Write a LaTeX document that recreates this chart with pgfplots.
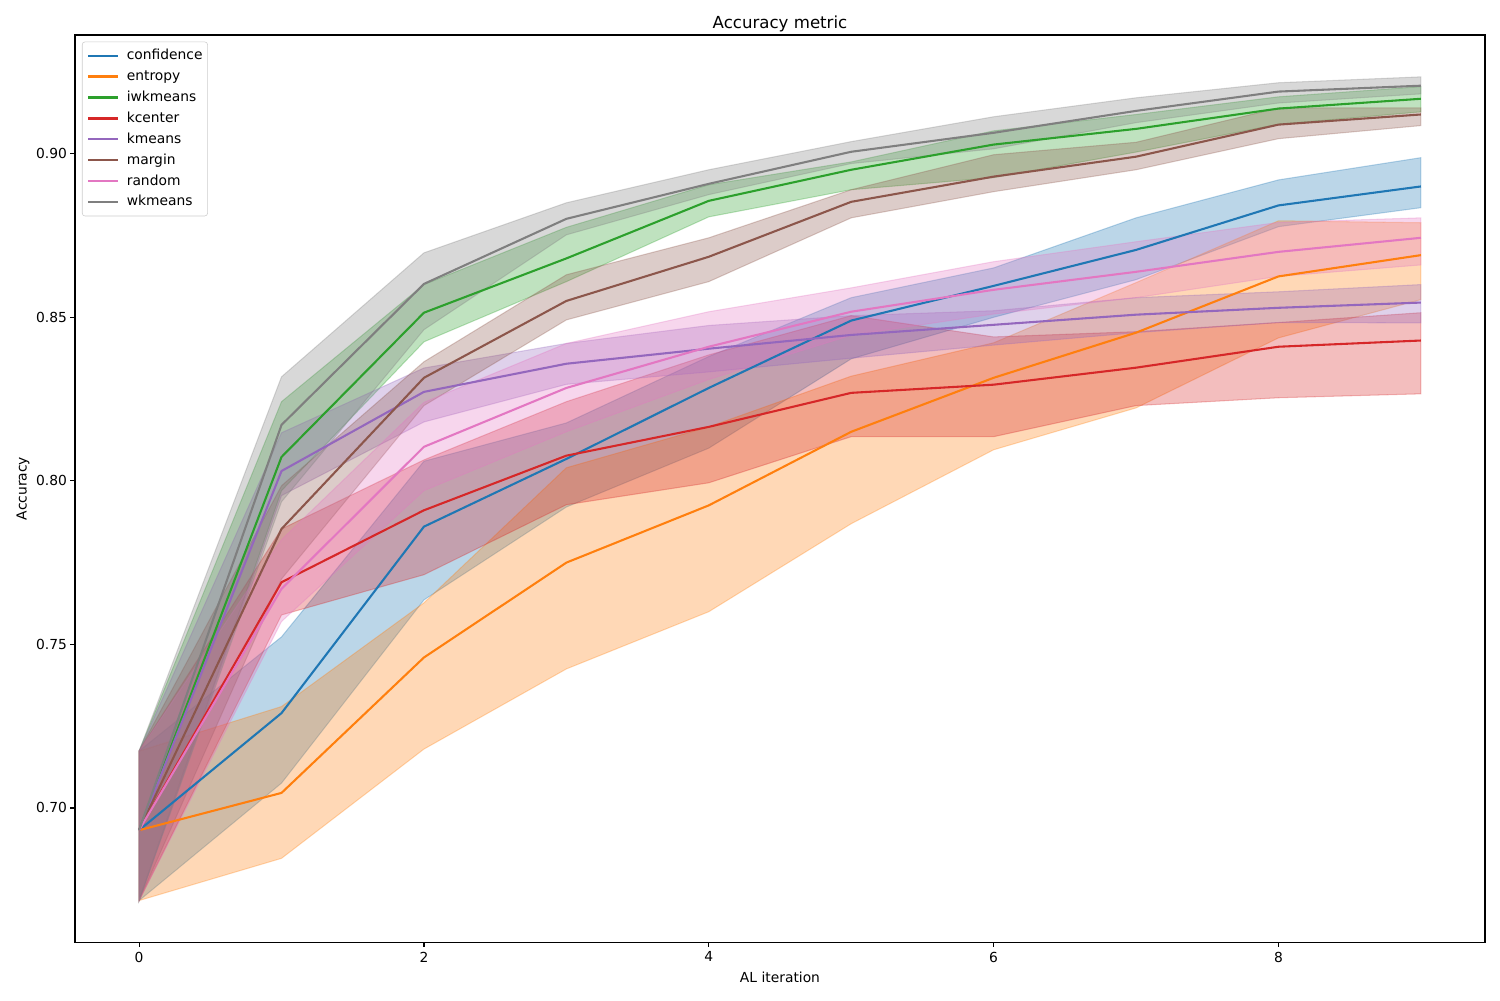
\documentclass[border=0pt]{standalone}
\usepackage{fontspec}
\setmainfont{DejaVu Sans}
\usepackage{pgfplots}
\pgfplotsset{compat=1.18}
\definecolor{c0}{HTML}{1F77B4}
\definecolor{c1}{HTML}{FF7F0E}
\definecolor{c2}{HTML}{2CA02C}
\definecolor{c3}{HTML}{D62728}
\definecolor{c4}{HTML}{9467BD}
\definecolor{c5}{HTML}{8C564B}
\definecolor{c6}{HTML}{E377C2}
\definecolor{c7}{HTML}{7F7F7F}
\pgfplotsset{
  band/.style={fill=#1, draw=#1, opacity=0.3, line width=0.75bp, forget plot},
  mline/.style={color=#1, line width=1.5bp, line join=round},
}
\begin{document}
\fontsize{10}{12}\selectfont
\begin{tikzpicture}
\begin{axis}[
  scale only axis, width=1015.2bp, height=653.04bp,
  xmin=-0.45, xmax=9.45, ymin=0.659, ymax=0.9363,
  xtick={0,2,4,6,8}, ytick={0.70,0.75,0.80,0.85,0.90},
  yticklabel style={xshift=1.2bp, /pgf/number format/.cd, fixed, fixed zerofill, precision=2},
  /pgf/number format/assume math mode=true,
  tick align=outside, xtick pos=bottom, ytick pos=left,
  major tick length=3.5bp,
  tick style={black, line width=0.8bp},
  axis line style={line width=0.8bp},
  ticklabel style={font=\fontsize{10}{12}\selectfont},
  title={Accuracy metric}, xlabel={AL iteration}, ylabel={Accuracy},
  title style={font=\fontsize{12}{14}\selectfont, yshift=-7bp},
  label style={font=\fontsize{10}{12}\selectfont},
  ylabel style={yshift=-2bp},
  legend style={at={(0,1)}, anchor=north west, xshift=5bp, yshift=-4.8bp,
    draw=black!20, rounded corners=2bp, fill=white, fill opacity=0.8, text opacity=1,
    font=\fontsize{10}{12}\selectfont, inner xsep=3.6bp, inner ysep=4.8bp,
    row sep=5.1bp, column sep=5.4bp,
    nodes={inner sep=0pt, text height=7.6bp, text depth=2.4bp}},
  legend cell align=left,
  legend image code/.code={\draw[#1] (0bp,0bp) -- (21.6bp,0bp);},
]
% ---- bands (drawn beneath all lines, as in the original) ----
% confidence
\addplot[band=c0] coordinates {(0,0.7174) (1,0.7523) (2,0.806) (3,0.8177) (4,0.838) (5,0.856) (6,0.8651) (7,0.8804) (8,0.892) (9,0.8988)
 (9,0.8835) (8,0.8777) (7,0.8615) (6,0.850) (5,0.8373) (4,0.810) (3,0.792) (2,0.7636) (1,0.7076) (0,0.6717)} -- cycle;
% entropy
\addplot[band=c1] coordinates {(0,0.7174) (1,0.731) (2,0.7627) (3,0.804) (4,0.8165) (5,0.832) (6,0.8422) (7,0.8606) (8,0.8795) (9,0.8789)
 (9,0.8554) (8,0.8437) (7,0.8223) (6,0.8095) (5,0.7869) (4,0.760) (3,0.7425) (2,0.718) (1,0.6846) (0,0.6717)} -- cycle;
% iwkmeans
\addplot[band=c2] coordinates {(0,0.7174) (1,0.8242) (2,0.860) (3,0.8775) (4,0.8905) (5,0.8975) (6,0.907) (7,0.912) (8,0.9174) (9,0.9205)
 (9,0.9128) (8,0.909) (7,0.9005) (6,0.8927) (5,0.889) (4,0.8807) (3,0.8609) (2,0.8425) (1,0.797) (0,0.6717)} -- cycle;
% kcenter
\addplot[band=c3] coordinates {(0,0.7174) (1,0.7853) (2,0.8064) (3,0.8242) (4,0.8385) (5,0.8505) (6,0.844) (7,0.8456) (8,0.8484) (9,0.8514)
 (9,0.8266) (8,0.8254) (7,0.823) (6,0.8135) (5,0.8135) (4,0.7994) (3,0.7927) (2,0.7713) (1,0.759) (0,0.6717)} -- cycle;
% kmeans
\addplot[band=c4] coordinates {(0,0.7174) (1,0.8147) (2,0.8345) (3,0.842) (4,0.8475) (5,0.8505) (6,0.852) (7,0.856) (8,0.8578) (9,0.860)
 (9,0.8483) (8,0.8484) (7,0.8453) (6,0.8415) (5,0.8375) (4,0.8333) (3,0.8295) (2,0.818) (1,0.7955) (0,0.6717)} -- cycle;
% margin
\addplot[band=c5] coordinates {(0,0.7174) (1,0.7985) (2,0.8364) (3,0.863) (4,0.8743) (5,0.889) (6,0.8997) (7,0.9035) (8,0.914) (9,0.914)
 (9,0.9086) (8,0.9046) (7,0.8951) (6,0.8884) (5,0.8804) (4,0.8609) (3,0.8492) (2,0.823) (1,0.770) (0,0.6717)} -- cycle;
% random
\addplot[band=c6] coordinates {(0,0.7174) (1,0.782) (2,0.824) (3,0.842) (4,0.8517) (5,0.859) (6,0.867) (7,0.8731) (8,0.879) (9,0.8804)
 (9,0.866) (8,0.8625) (7,0.856) (6,0.851) (5,0.8445) (4,0.831) (3,0.815) (2,0.797) (1,0.757) (0,0.6717)} -- cycle;
% wkmeans
\addplot[band=c7] coordinates {(0,0.7174) (1,0.8318) (2,0.8697) (3,0.885) (4,0.8951) (5,0.9037) (6,0.9113) (7,0.9171) (8,0.9217) (9,0.9235)
 (9,0.9183) (8,0.9155) (7,0.9095) (6,0.9015) (5,0.897) (4,0.8875) (3,0.8752) (2,0.8462) (1,0.7936) (0,0.6717)} -- cycle;
% ---- mean lines ----
\addplot[mline=c0] coordinates {(0,0.6932) (1,0.729) (2,0.786) (3,0.8067) (4,0.8284) (5,0.849) (6,0.8596) (7,0.8706) (8,0.8842) (9,0.8900)};
\addlegendentry{confidence}
\addplot[mline=c1] coordinates {(0,0.6932) (1,0.7046) (2,0.746) (3,0.775) (4,0.7925) (5,0.815) (6,0.8315) (7,0.8453) (8,0.8625) (9,0.869)};
\addlegendentry{entropy}
\addplot[mline=c2] coordinates {(0,0.6932) (1,0.8073) (2,0.8514) (3,0.868) (4,0.8856) (5,0.8951) (6,0.9028) (7,0.9076) (8,0.9138) (9,0.9168)};
\addlegendentry{iwkmeans}
\addplot[mline=c3] coordinates {(0,0.6932) (1,0.769) (2,0.791) (3,0.8077) (4,0.8165) (5,0.8269) (6,0.8294) (7,0.8346) (8,0.841) (9,0.8429)};
\addlegendentry{kcenter}
\addplot[mline=c4] coordinates {(0,0.6932) (1,0.803) (2,0.8272) (3,0.8358) (4,0.8404) (5,0.8446) (6,0.8477) (7,0.8508) (8,0.8529) (9,0.8545)};
\addlegendentry{kmeans}
\addplot[mline=c5] coordinates {(0,0.6932) (1,0.7853) (2,0.8315) (3,0.855) (4,0.8685) (5,0.8853) (6,0.893) (7,0.8991) (8,0.9089) (9,0.912)};
\addlegendentry{margin}
\addplot[mline=c6] coordinates {(0,0.6932) (1,0.767) (2,0.8104) (3,0.8284) (4,0.841) (5,0.8517) (6,0.8584) (7,0.8639) (8,0.870) (9,0.8743)};
\addlegendentry{random}
\addplot[mline=c7] coordinates {(0,0.6932) (1,0.8171) (2,0.8602) (3,0.8801) (4,0.8908) (5,0.9006) (6,0.9064) (7,0.9131) (8,0.919) (9,0.9208)};
\addlegendentry{wkmeans}
\end{axis}
\path (current axis.south west) ++(-54bp,-41.76bp) coordinate (bbsw);
\path (current axis.north east) ++(10.8bp,25.2bp) coordinate (bbne);
\path (bbsw) rectangle (bbne);
\end{tikzpicture}
\end{document}
